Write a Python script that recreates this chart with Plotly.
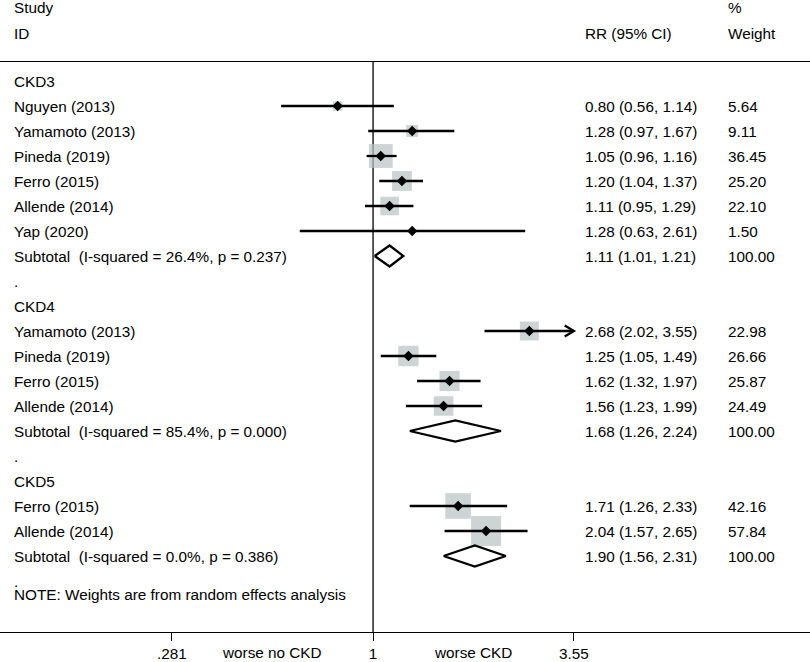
import math
import plotly.graph_objects as go

# ---------------- data ----------------
groups = ["CKD3", "CKD4", "CKD5"]

study_names = ["Nguyen (2013)", "Yamamoto (2013)", "Pineda (2019)", "Ferro (2015)", "Allende (2014)", "Yap (2020)",
               "Yamamoto (2013)", "Pineda (2019)", "Ferro (2015)", "Allende (2014)",
               "Ferro (2015)", "Allende (2014)"]
study_group = ["CKD3", "CKD3", "CKD3", "CKD3", "CKD3", "CKD3",
               "CKD4", "CKD4", "CKD4", "CKD4",
               "CKD5", "CKD5"]
rr = [0.80, 1.28, 1.05, 1.20, 1.11, 1.28, 2.68, 1.25, 1.62, 1.56, 1.71, 2.04]
rr_lo = [0.56, 0.97, 0.96, 1.04, 0.95, 0.63, 2.02, 1.05, 1.32, 1.23, 1.26, 1.57]
rr_hi = [1.14, 1.67, 1.16, 1.37, 1.29, 2.61, 3.55, 1.49, 1.97, 1.99, 2.33, 2.65]
weight = [5.64, 9.11, 36.45, 25.20, 22.10, 1.50, 22.98, 26.66, 25.87, 24.49, 42.16, 57.84]

sub_rr = [1.11, 1.68, 1.90]
sub_lo = [1.01, 1.26, 1.56]
sub_hi = [1.21, 2.24, 2.31]
sub_i2 = ["26.4%", "85.4%", "0.0%"]
sub_p = ["0.237", "0.000", "0.386"]

tick_vals = [0.281, 1, 3.55]
tick_text = [".281", "1", "3.55"]
favours = ["worse no CKD", "worse CKD"]
note = "NOTE: Weights are from random effects analysis"

# ---------------- styles ----------------
FONT = "Liberation Sans, Arial, sans-serif"
FS = 15.3
BOX_COLOR = "#b6c3c1"
BOX_SCALE = 3.95          # px per sqrt(weight)
LW = 2.3
X_COL_STUDY = 12 / 810
X_COL_RR = 583 / 810
X_COL_W = 726 / 810
Y_RANGE = [22.04, -0.76]  # rows, reversed
X_RANGE = [-1.022, 1.197]  # log10
PLOT_H = 570


def row_to_paper(r):
    return (Y_RANGE[0] - r) / (Y_RANGE[0] - Y_RANGE[1])


fig = go.Figure()
ann = []


def txt(x, y, s, xref="paper", yref="y", xanchor="left", yanchor="middle"):
    ann.append(dict(x=x, y=y, xref=xref, yref=yref, text=s, showarrow=False,
                    xanchor=xanchor, yanchor=yanchor,
                    font=dict(family=FONT, size=FS, color="#000")))


# header (above the plot area -> paper coordinates)
txt(X_COL_STUDY, row_to_paper(-2.92), "Study", yref="paper")
txt(X_COL_STUDY, row_to_paper(-1.92), "ID", yref="paper")
txt(X_COL_RR, row_to_paper(-1.92), "RR (95% CI)", yref="paper")
txt(X_COL_W, row_to_paper(-2.92), "%", yref="paper")
txt(X_COL_W, row_to_paper(-1.92), "Weight", yref="paper")

# null line
fig.add_trace(go.Scatter(x=[1, 1], y=Y_RANGE, mode="lines",
                         line=dict(color="#000", width=1.3), hoverinfo="skip"))

# assign rows
row = 0
study_rows = [None] * len(study_names)
sub_rows = []
for g in groups:
    txt(X_COL_STUDY, row, g)
    row += 1
    for i, sg in enumerate(study_group):
        if sg == g:
            study_rows[i] = row
            txt(X_COL_STUDY, row, study_names[i])
            txt(X_COL_RR, row, f"{rr[i]:.2f} ({rr_lo[i]:.2f}, {rr_hi[i]:.2f})")
            txt(X_COL_W, row, f"{weight[i]:.2f}")
            row += 1
    gi = groups.index(g)
    sub_rows.append(row)
    txt(X_COL_STUDY, row, f"Subtotal&nbsp; (I-squared = {sub_i2[gi]}, p = {sub_p[gi]})")
    txt(X_COL_RR, row, f"{sub_rr[gi]:.2f} ({sub_lo[gi]:.2f}, {sub_hi[gi]:.2f})")
    gw = sum(w for w, sg in zip(weight, study_group) if sg == g)
    txt(X_COL_W, row, f"{gw:.2f}")
    row += 1
    txt(X_COL_STUDY, row, ".")
    row += 1
txt(X_COL_STUDY, row - 1 + 0.52, note)

# weight boxes
fig.add_trace(go.Scatter(x=rr, y=study_rows, mode="markers",
                         marker=dict(symbol="square", color=BOX_COLOR,
                                     size=[BOX_SCALE * math.sqrt(w) for w in weight],
                                     line=dict(width=0)),
                         hoverinfo="skip"))

# CI lines (+ arrow when truncated at axis max)
xmax = max(tick_vals)
for i in range(len(rr)):
    r = study_rows[i]
    fig.add_trace(go.Scatter(x=[rr_lo[i], rr_hi[i]], y=[r, r], mode="lines",
                             line=dict(color="#000", width=LW), hoverinfo="skip"))
    if rr_hi[i] >= xmax:
        back = rr_hi[i] * math.exp(-0.058)
        fig.add_trace(go.Scatter(x=[back, rr_hi[i], back], y=[r - 0.22, r, r + 0.22],
                                 mode="lines", line=dict(color="#000", width=LW),
                                 hoverinfo="skip"))

# point estimates
fig.add_trace(go.Scatter(x=rr, y=study_rows, mode="markers",
                         marker=dict(symbol="diamond", color="#000", size=8),
                         hoverinfo="skip"))

# subtotal diamonds
for gi, r in enumerate(sub_rows):
    fig.add_trace(go.Scatter(x=[sub_lo[gi], sub_rr[gi], sub_hi[gi], sub_rr[gi], sub_lo[gi]],
                             y=[r, r - 0.42, r, r + 0.42, r],
                             mode="lines", fill="toself", fillcolor="#fff",
                             line=dict(color="#000", width=LW), hoverinfo="skip"))

# favour labels (between the tick marks, beneath the axis)
for k, lab in enumerate(favours):
    txt(math.log10(math.sqrt(tick_vals[k] * tick_vals[k + 1])), -20 / PLOT_H, lab,
        xref="x", yref="paper", xanchor="center")

fig.update_layout(
    width=810, height=662,
    margin=dict(l=0, r=0, t=62, b=30),
    paper_bgcolor="#fff", plot_bgcolor="#fff",
    showlegend=False,
    annotations=ann,
    font=dict(family=FONT, size=FS, color="#000"),
    xaxis=dict(type="log", range=X_RANGE, tickvals=tick_vals, ticktext=tick_text,
               showgrid=False, zeroline=False, showline=True, linecolor="#000",
               linewidth=1, mirror=True, ticks="outside", ticklen=8, tickcolor="#000",
               tickwidth=1, tickfont=dict(family=FONT, size=FS, color="#000"),
               fixedrange=True),
    yaxis=dict(range=Y_RANGE, showgrid=False, zeroline=False, showline=False,
               showticklabels=False, ticks="", fixedrange=True),
)

fig.write_html("out.html", config={"displayModeBar": False},
               post_script="document.body.style.margin='0';document.body.style.overflow='hidden';")
